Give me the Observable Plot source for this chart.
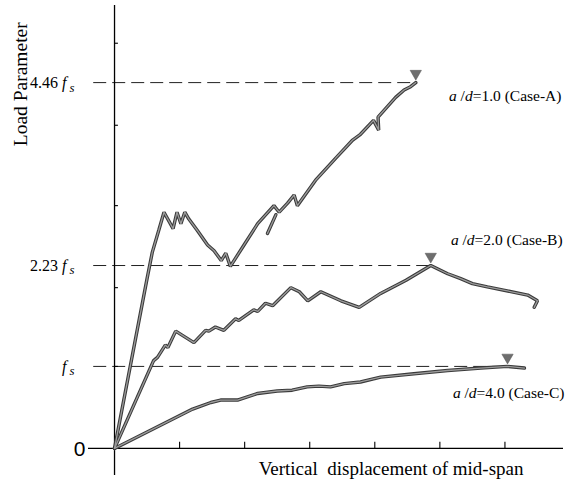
<!DOCTYPE html>
<html>
<head>
<meta charset="utf-8">
<script src="https://cdn.jsdelivr.net/npm/d3@7"></script>
<script src="https://cdn.jsdelivr.net/npm/@observablehq/plot@0.6"></script>
<style>
  html, body { margin: 0; padding: 0; background: #fff; }
  svg text { white-space: pre; }
</style>
</head>
<body>
<div id="chart"></div>
<script>
// ---- data (x: displacement units = tick spacing, y: load in units of f_s) ----
const caseA = [
  [0,0],[0.50,2.07],[0.58,2.39],[0.68,2.66],[0.76,2.88],[0.90,2.68],[0.96,2.88],
  [1.02,2.74],[1.08,2.88],[1.14,2.80],[1.27,2.66],[1.43,2.48],[1.53,2.41],[1.64,2.29],
  [1.71,2.38],[1.78,2.22],[1.99,2.48],[2.20,2.74],[2.45,2.96],[2.53,2.88],[2.66,2.99],
  [2.76,3.09],[2.81,2.96],[3.09,3.27],[3.40,3.54],[3.66,3.76],[3.78,3.83],[3.98,4.00],
  [4.06,3.88],[4.05,4.04],[4.32,4.28],[4.45,4.37],[4.55,4.41],[4.63,4.46]
];
const caseAbranch = [[2.35,2.62],[2.48,2.85]];
const caseB = [
  [0,0],[0.60,1.07],[0.66,1.11],[0.78,1.26],[0.82,1.23],[0.94,1.43],[1.22,1.29],
  [1.40,1.44],[1.45,1.43],[1.55,1.48],[1.68,1.44],[1.86,1.58],[1.91,1.56],[2.14,1.69],
  [2.20,1.67],[2.32,1.77],[2.43,1.74],[2.71,1.96],[2.84,1.91],[2.97,1.80],[3.17,1.91],
  [3.48,1.80],[3.76,1.72],[4.09,1.89],[4.48,2.05],[4.86,2.23],[5.12,2.13],[5.32,2.07],
  [5.50,2.01],[5.73,1.97],[6.35,1.87],[6.50,1.80],[6.45,1.72]
];
const caseC = [
  [0,0],[1.20,0.48],[1.48,0.56],[1.63,0.59],[1.89,0.59],[2.20,0.67],[2.50,0.70],
  [2.73,0.71],[2.96,0.75],[3.14,0.76],[3.32,0.75],[3.53,0.79],[3.78,0.81],[4.09,0.87],
  [4.60,0.91],[5.12,0.95],[5.63,0.98],[6.04,1.00],[6.30,0.98]
];
const peaks = [[4.63,4.46],[4.86,2.23],[6.04,1.00]];
const refValues = [4.46, 2.23, 1];
const refLabels = ["4.46 f_s", "2.23 f_s", "f_s"];
const caseLabels = ["a /d=1.0 (Case-A)", "a /d=2.0 (Case-B)", "a /d=4.0 (Case-C)"];
const xTicks = [1, 2, 3, 4, 5, 6];
const yTicks = [1, 1.96, 2.96, 3.94, 4.94];
const xTitle = "Vertical  displacement of mid-span";
const yTitle = "Load Parameter";

// ---- build tables ----
const lineData = [];
[["A", caseA], ["A2", caseAbranch], ["B", caseB], ["C", caseC]].forEach(([s, arr]) =>
  arr.forEach(([x, y]) => lineData.push({series: s, x, y})));
const peakData = peaks.map(([x, y]) => ({x, y}));
const refData = refValues.map((v, i) => ({y: v, x2: peaks[i][0], label: refLabels[i]}));
const caseLabelPos = [[5.14, 4.30], [5.17, 2.54], [5.20, 0.68]];
const caseLabelData = caseLabels.map((t, i) => ({text: t, x: caseLabelPos[i][0], y: caseLabelPos[i][1]}));

const serif = "'Liberation Serif', 'Times New Roman', serif";

const chart = Plot.plot({
  width: 574,
  height: 488,
  marginLeft: 88,
  marginRight: 11,
  marginTop: 5,
  marginBottom: 13,
  x: {domain: [-0.4, 6.9], axis: null},
  y: {domain: [-0.33, 5.4], axis: null},
  style: {background: "#fff", fontFamily: serif},
  marks: [
    // dashed reference lines
    Plot.ruleY(refData, {y: "y", x1: -0.32, x2: "x2", stroke: "#222", strokeWidth: 1, strokeDasharray: "13,6"}),
    // axes
    Plot.ruleX([0], {y1: -0.33, y2: 5.4, stroke: "#000", strokeWidth: 1.3}),
    Plot.ruleY([0], {x1: -0.4, x2: 6.9, stroke: "#000", strokeWidth: 1.3}),
    Plot.ruleX(xTicks, {x: d => d, y1: 0, y2: 0.075, stroke: "#000", strokeWidth: 1.1}),
    Plot.ruleY(yTicks, {y: d => d, x1: 0, x2: 0.06, stroke: "#000", strokeWidth: 1.1}),
    // curves (outlined grey lines)
    Plot.line(lineData, {x: "x", y: "y", z: "series", stroke: "#3a3a3a", strokeWidth: 3.4, strokeLinejoin: "miter", curve: "linear"}),
    Plot.line(lineData, {x: "x", y: "y", z: "series", stroke: "#9c9c9c", strokeWidth: 1.3, strokeLinejoin: "miter", curve: "linear"}),
    // peak markers
    Plot.dot(peakData, {x: "x", y: "y", symbol: "triangle", rotate: 180, r: 4.2, fill: "#6e6e6e", stroke: "#555", strokeWidth: 0.5, dy: -9}),
    // y tick labels
    Plot.text(refData, {x: 0, y: "y", text: "label", textAnchor: "end", dx: -40, fontSize: 16, fill: "#000"}),
    Plot.text(["0"], {x: 0, y: 0, text: d => d, textAnchor: "end", dx: -29, dy: 1, fontSize: 21, fontFamily: "'Liberation Sans', Arial, sans-serif", fill: "#000"}),
    // case labels
    Plot.text(caseLabelData, {x: "x", y: "y", text: "text", textAnchor: "start", fontSize: 15.5, fill: "#000"}),
    // axis titles
    Plot.text([xTitle], {x: 4.25, y: -0.245, text: d => d, fontSize: 19, fill: "#000"}),
    Plot.text([yTitle], {x: 0, y: 4.44, text: d => d, dx: -94, rotate: -90, fontSize: 19.5, fill: "#000"})
  ]
});

// rich text: italic f with subscript s, italic a and d
d3.select(chart).selectAll("text").each(function() {
  const t = this.textContent;
  let m;
  const el = d3.select(this);
  if ((m = t.match(/^(.*?)f_s$/))) {
    this.textContent = "";
    if (m[1]) el.append("tspan").text(m[1]);
    el.append("tspan").attr("font-style", "italic").text("f");
    el.append("tspan").attr("font-style", "italic").attr("font-size", "0.8em").attr("dx", "3").attr("dy", "0.3em").text("s");
  } else if ((m = t.match(/^a \/d(.*)$/))) {
    this.textContent = "";
    el.append("tspan").attr("font-style", "italic").text("a");
    el.append("tspan").text(" /");
    el.append("tspan").attr("font-style", "italic").text("d");
    el.append("tspan").text(m[1]);
  }
});

document.getElementById("chart").appendChild(chart);
</script>
</body>
</html>
